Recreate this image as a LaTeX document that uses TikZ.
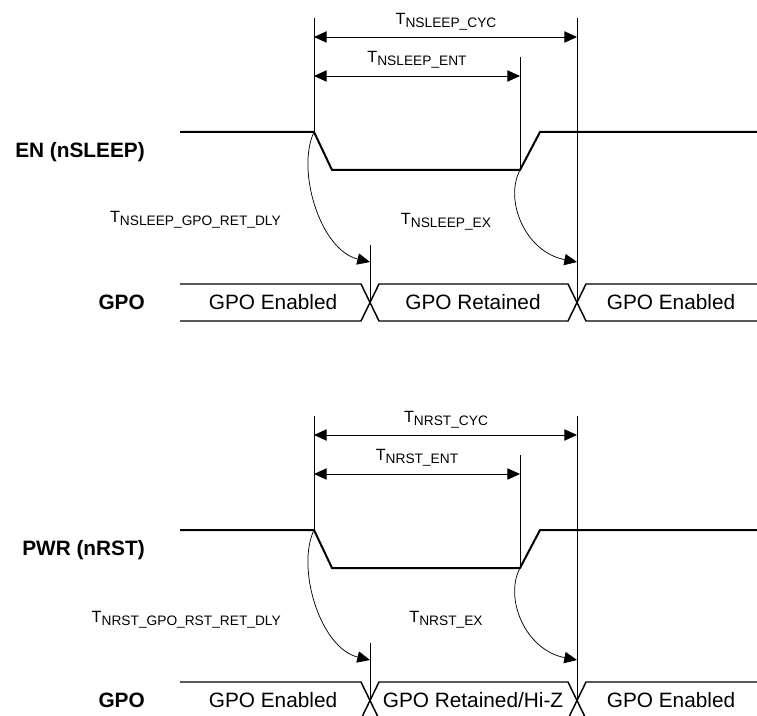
\documentclass[tikz,border=0pt]{standalone}
\usepackage{fontspec}
\setmainfont{Liberation Sans}
\usetikzlibrary{arrows.meta}

% T con pedice (nomi dei tempi)
\newcommand{\tsig}[1]{{\fontsize{12.2}{14}\selectfont T}\raisebox{-2pt}{\fontsize{10.3}{12}\selectfont #1}}

\tikzset{
    signal/.style={line width=1.5pt, line join=miter},
    bus/.style={line width=1.1pt},
    guide/.style={line width=0.7pt},
    dim/.style={line width=0.7pt, {Triangle[length=9.5pt,width=8.5pt]}-{Triangle[length=9.5pt,width=8.5pt]}},
    delay/.style={line width=0.55pt, -{Triangle[length=9.5pt,width=8.5pt]}},
    buslabel/.style={font=\fontsize{15.6}{18}\selectfont, inner sep=0pt},
    siglabel/.style={font=\bfseries\fontsize{15.6}{18}\selectfont, anchor=east, inner sep=0pt},
    tlabel/.style={inner sep=0pt},
}

\begin{document}
\begin{tikzpicture}[x=0.75pt, y=-0.75pt]
    \useasboundingbox (0,0) rectangle (757,716);
    \clip (0,0) rectangle (757,716);

    % ---- Prima parte: EN (nSLEEP) ----
    \node[siglabel] (enlab) at (145,152) {EN (nSLEEP)};
    \coordinate (enfall) at (314,132);
    \coordinate (enlow) at (332,170);
    \coordinate (enrise) at (520,170);
    \coordinate (enhigh) at (540,132);
    \draw[signal] (180,132) -- (enfall) -- (enlow) -- (enrise) -- (enhigh) -- (757,132);

    % Linee verticali di riferimento
    \coordinate (entop) at (314,18);
    \coordinate (enent) at (520,57);
    \coordinate (enend) at (577,18);
    \coordinate (enret) at (370,245);
    \coordinate (enxa) at (370,302.5);
    \coordinate (enxb) at (577,302.5);
    \draw[guide] (entop) -- (enfall);
    \draw[guide] (enent) -- (enrise);
    \draw[guide] (enend) -- (enxb);
    \draw[guide] (enret) -- (enxa);

    % Quote dei tempi
    \draw[dim] (314,37) -- (577,37);
    \node[tlabel] (encyc) at (446,22) {\tsig{NSLEEP\_CYC}};
    \draw[dim] (314,76) -- (520,76);
    \node[tlabel] (enentl) at (417,60) {\tsig{NSLEEP\_ENT}};

    % Ritardi (frecce curve)
    \coordinate (enarra) at (370,262);
    \coordinate (enarrb) at (577,262);
    \draw[delay] (enfall) .. controls (296,170) and (320,250) .. (enarra);
    \draw[delay] (enrise) .. controls (504,200) and (525,252) .. (enarrb);
    \node[tlabel, anchor=east] (endly) at (281,220) {\tsig{NSLEEP\_GPO\_RET\_DLY}};
    \node[tlabel] (enex) at (446,222) {\tsig{NSLEEP\_EX}};

    % Bus GPO
    \node[siglabel] (gpolaba) at (145,302) {GPO};
    \draw[bus] (180,284) -- (361,284) -- (379,321) -- (568,321) -- (586,284) -- (757,284);
    \draw[bus] (180,321) -- (361,321) -- (379,284) -- (568,284) -- (586,321) -- (757,321);
    \node[buslabel] (gpoa1) at (273,302) {GPO Enabled};
    \node[buslabel] (gpoa2) at (473,302) {GPO Retained};
    \node[buslabel] (gpoa3) at (671,302) {GPO Enabled};

    % ---- Seconda parte: PWR (nRST) ----
    \begin{scope}[shift={(0,398)}]
        \node[siglabel] (pwrlab) at (145,152) {PWR (nRST)};
        \coordinate (pwfall) at (314,132);
        \coordinate (pwlow) at (332,170);
        \coordinate (pwrise) at (520,170);
        \coordinate (pwhigh) at (540,132);
        \draw[signal] (180,132) -- (pwfall) -- (pwlow) -- (pwrise) -- (pwhigh) -- (757,132);

        % Linee verticali di riferimento
        \coordinate (pwtop) at (314,18);
        \coordinate (pwent) at (520,57);
        \coordinate (pwend) at (577,18);
        \coordinate (pwret) at (370,245);
        \coordinate (pwxa) at (370,302.5);
        \coordinate (pwxb) at (577,302.5);
        \draw[guide] (pwtop) -- (pwfall);
        \draw[guide] (pwent) -- (pwrise);
        \draw[guide] (pwend) -- (pwxb);
        \draw[guide] (pwret) -- (pwxa);

        % Quote dei tempi
        \draw[dim] (314,37) -- (577,37);
        \node[tlabel] (pwcyc) at (446,22) {\tsig{NRST\_CYC}};
        \draw[dim] (314,76) -- (520,76);
        \node[tlabel] (pwentl) at (417,60) {\tsig{NRST\_ENT}};

        % Ritardi (frecce curve)
        \coordinate (pwarra) at (370,262);
        \coordinate (pwarrb) at (577,262);
        \draw[delay] (pwfall) .. controls (296,170) and (320,250) .. (pwarra);
        \draw[delay] (pwrise) .. controls (504,200) and (525,252) .. (pwarrb);
        \node[tlabel, anchor=east] (pwdly) at (281,222) {\tsig{NRST\_GPO\_RST\_RET\_DLY}};
        \node[tlabel] (pwex) at (446,222) {\tsig{NRST\_EX}};

        % Bus GPO
        \node[siglabel] (gpolabb) at (145,302) {GPO};
        \draw[bus] (180,284) -- (361,284) -- (379,321) -- (568,321) -- (586,284) -- (757,284);
        \draw[bus] (180,321) -- (361,321) -- (379,284) -- (568,284) -- (586,321) -- (757,321);
        \node[buslabel] (gpob1) at (273,302) {GPO Enabled};
        \node[buslabel] (gpob2) at (473,302) {GPO Retained/Hi-Z};
        \node[buslabel] (gpob3) at (671,302) {GPO Enabled};
    \end{scope}
\end{tikzpicture}
\end{document}
